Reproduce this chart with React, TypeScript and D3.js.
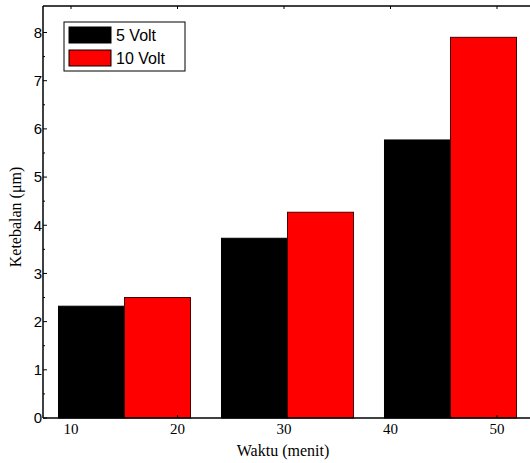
import React from "react";
import { scaleBand, scaleLinear } from "d3";

const groups = ["g1", "g2", "g3"];
const volt5 = [2.32, 3.73, 5.77];
const volt10 = [2.5, 4.27, 7.9];
const seriesNames = ["5 Volt", "10 Volt"];
const seriesColors = ["#000000", "#ff0000"];
const xTicks = [10, 20, 30, 40, 50];
const yTicks = [0, 1, 2, 3, 4, 5, 6, 7, 8];

const W = 530;
const H = 463;
const left = 43;
const right = 532;
const top = 6;
const bottom = 418;

export default function App() {
  const x = scaleBand<string>()
    .domain(groups)
    .range([left, right])
    .paddingInner(0.19)
    .paddingOuter(0.095);
  const inner = scaleBand<number>()
    .domain([0, 1])
    .range([0, x.bandwidth()]);
  const y = scaleLinear().domain([0, 8.55]).range([bottom, top]);
  const xLab = scaleLinear().domain([10, 50]).range([71, 497]);

  const series = [volt5, volt10];
  const minorY = yTicks.slice(0, -1).map((t) => t + 0.5);

  return (
    <svg
      width={W}
      height={H}
      style={{ position: "absolute", left: 0, top: 0, background: "#fff" }}
    >
      {/* bars */}
      {groups.map((g, gi) =>
        series.map((vals, si) => (
          <rect
            key={g + si}
            x={(x(g) ?? 0) + (inner(si) ?? 0)}
            y={y(vals[gi])}
            width={inner.bandwidth()}
            height={bottom - y(vals[gi])}
            fill={seriesColors[si]}
            stroke={si === 0 ? "#000" : "#4a0000"}
            strokeWidth={1}
          />
        ))
      )}

      {/* frame */}
      <line x1={left} x2={left} y1={top} y2={bottom} stroke="#000" strokeWidth={1.5} />
      <line x1={left} x2={W} y1={bottom} y2={bottom} stroke="#000" strokeWidth={1.5} />
      <line x1={left} x2={W} y1={top} y2={top} stroke="#000" strokeWidth={1.5} />

      {/* y ticks */}
      {yTicks.map((t) => (
        <g key={t}>
          <line x1={left} x2={left + 4} y1={y(t)} y2={y(t)} stroke="#000" />
          <text
            x={left - 1}
            y={y(t)}
            dy="0.35em"
            textAnchor="end"
            fontFamily="Liberation Sans, Arial, sans-serif"
            fontSize={15}
          >
            {t}
          </text>
        </g>
      ))}
      {minorY.map((t) => (
        <line key={t} x1={left} x2={left + 2} y1={y(t)} y2={y(t)} stroke="#000" />
      ))}

      {/* x ticks */}
      {xTicks.map((t) => (
        <g key={t}>
          <line x1={xLab(t)} x2={xLab(t)} y1={bottom} y2={bottom - 3} stroke="#000" />
          <line x1={xLab(t)} x2={xLab(t)} y1={top} y2={top + 3} stroke="#000" />
          <text
            x={xLab(t)}
            y={bottom + 16}
            textAnchor="middle"
            fontFamily="Liberation Serif, Times New Roman, serif"
            fontSize={15}
          >
            {t}
          </text>
        </g>
      ))}

      {/* axis titles */}
      <text
        x={283}
        y={456}
        textAnchor="middle"
        fontFamily="Liberation Serif, Times New Roman, serif"
        fontSize={16}
      >
        Waktu (menit)
      </text>
      <text
        transform="translate(21, 217) rotate(-90)"
        textAnchor="middle"
        fontFamily="Liberation Serif, Times New Roman, serif"
        fontSize={16}
      >
        Ketebalan (μm)
      </text>

      {/* legend */}
      <g>
        <rect x={64} y={22} width={121} height={49} fill="#fff" stroke="#000" strokeWidth={1} />
        {seriesNames.map((name, i) => (
          <g key={name}>
            <rect
              x={69}
              y={27 + i * 23}
              width={42}
              height={16}
              fill={seriesColors[i]}
              stroke="#000"
            />
            <text
              x={116}
              y={35 + i * 23}
              dy="0.35em"
              fontFamily="Liberation Sans, Arial, sans-serif"
              fontSize={16}
            >
              {name}
            </text>
          </g>
        ))}
      </g>
    </svg>
  );
}
